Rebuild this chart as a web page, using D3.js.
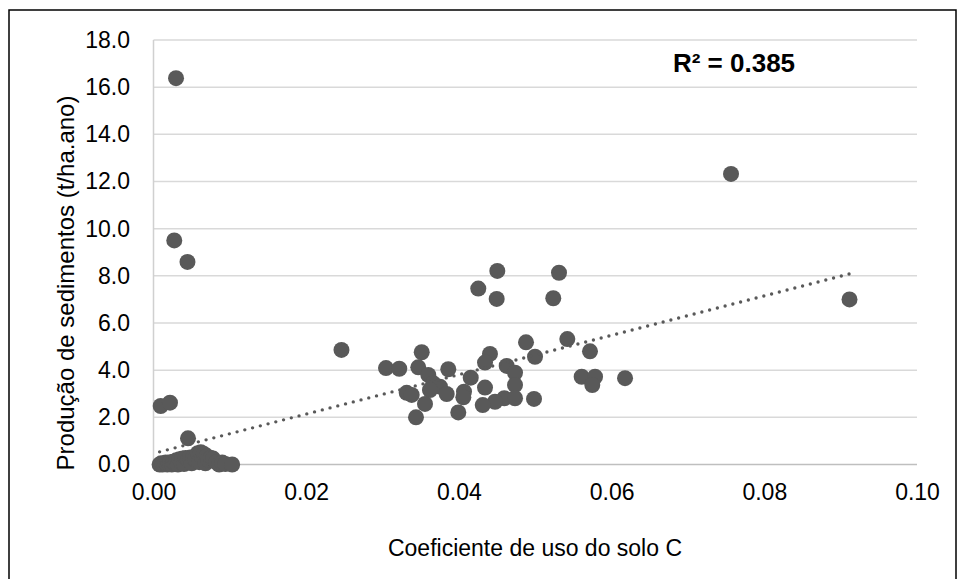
<!DOCTYPE html>
<html>
<head>
<meta charset="utf-8">
<script src="https://cdn.jsdelivr.net/npm/d3@7"></script>
<style>
  html, body { margin: 0; padding: 0; background: #fff; }
  svg { display: block; }
  text { font-family: "Liberation Sans", Arial, sans-serif; }
</style>
</head>
<body>
<svg id="chart" width="959" height="579"></svg>
<script>
// ---- data ----
const xValues = [
  // near-zero cluster
  0.0008,0.0010,0.0012,0.0014,0.0016,0.0018,0.0020,0.0022,0.0024,0.0026,
  0.0028,0.0030,0.0032,0.0034,0.0036,0.0038,0.0040,0.0042,0.0045,0.0048,
  0.0050,0.0052,0.0055,0.0058,0.0060,0.0062,0.0064,0.0066,0.0068,0.0070,
  0.0072,0.0075,0.0078,0.0082,0.0086,0.0090,0.0094,0.0103,
  // low-C outliers
  0.00094,0.00216,0.00272,0.00445,0.00295,0.00452,
  // middle cluster
  0.02462,
  0.04503,0.05311,0.04254,0.04495,0.05236,0.04879,0.05420,0.04997,0.05717,0.03513,
  0.04407,0.04342,0.03045,0.03219,0.03468,0.03861,0.04626,0.04735,0.03599,0.04155,
  0.05608,0.05783,0.05747,0.06176,0.03665,0.03752,0.03621,0.03840,0.03316,0.03382,
  0.04067,0.04058,0.04342,0.04735,0.03556,0.04595,0.04473,0.04312,0.04735,0.04984,
  0.03992,0.03438,
  // high-C points
  0.07564,0.09116
];
const yValues = [
  0.00,0.05,0.00,0.02,0.08,0.00,0.04,0.10,0.00,0.12,
  0.05,0.18,0.00,0.22,0.10,0.25,0.02,0.28,0.20,0.30,
  0.05,0.30,0.20,0.48,0.10,0.52,0.30,0.45,0.05,0.35,
  0.20,0.28,0.25,0.10,0.00,0.08,0.02,0.00,
  2.48,2.62,9.50,8.59,16.38,1.11,
  4.86,
  8.21,8.13,7.46,7.02,7.05,5.18,5.32,4.57,4.80,4.76,
  4.69,4.32,4.09,4.06,4.12,4.04,4.18,3.89,3.80,3.68,
  3.72,3.72,3.37,3.66,3.44,3.30,3.16,2.99,3.04,2.95,
  3.09,2.85,3.26,3.37,2.57,2.81,2.66,2.52,2.81,2.78,
  2.21,2.00,
  12.32,7.00
];
const xTicks = [0, 0.02, 0.04, 0.06, 0.08, 0.10];
const yTicks = [0, 2, 4, 6, 8, 10, 12, 14, 16, 18];
const trendSlope = 83.5;
const trendIntercept = 0.47;
const r2Label = "R² = 0.385";
const xTitle = "Coeficiente de uso do solo C";
const yTitle = "Produção de sedimentos (t/ha.ano)";

// ---- drawing ----
const svg = d3.select("#chart");
const W = 959, H = 579;
const plot = { left: 153.5, right: 917, top: 40, bottom: 464.5 };

svg.append("rect").attr("width", W).attr("height", H).attr("fill", "#fff");

// outer chart border
svg.append("path")
  .attr("d", `M9,${H} L9,10 L956,10 L956,${H}`)
  .attr("fill", "none").attr("stroke", "#000").attr("stroke-width", 1.5);

const x = d3.scaleLinear().domain([0, 0.1]).range([plot.left, plot.right]);
const y = d3.scaleLinear().domain([0, 18]).range([plot.bottom, plot.top]);

// gridlines
svg.append("g").selectAll("line").data(yTicks.filter(d => d > 0)).join("line")
  .attr("x1", plot.left).attr("x2", plot.right)
  .attr("y1", d => y(d)).attr("y2", d => y(d))
  .attr("stroke", "#d9d9d9").attr("stroke-width", 1.5);

// y axis line
svg.append("line")
  .attr("x1", plot.left).attr("x2", plot.left)
  .attr("y1", plot.top).attr("y2", plot.bottom)
  .attr("stroke", "#d0d0d0").attr("stroke-width", 1.5);

// x axis line
svg.append("line")
  .attr("x1", plot.left).attr("x2", plot.right)
  .attr("y1", y(0)).attr("y2", y(0))
  .attr("stroke", "#bfbfbf").attr("stroke-width", 1.5);

// y tick labels
const yAxis = d3.axisLeft(y).tickValues(yTicks).tickFormat(d3.format(".1f")).tickSize(0).tickPadding(23.5);
const gy = svg.append("g").attr("transform", `translate(${plot.left},0)`).call(yAxis);
gy.select(".domain").remove();
gy.selectAll("text").attr("font-size", 23).attr("fill", "#000")
  .attr("font-family", "'Liberation Sans', Arial, sans-serif");

// x tick labels
const xAxis = d3.axisBottom(x).tickValues(xTicks).tickFormat(d3.format(".2f")).tickSize(0).tickPadding(19.5);
const gx = svg.append("g").attr("transform", `translate(0,${y(0)})`).call(xAxis);
gx.select(".domain").remove();
gx.selectAll("text").attr("font-size", 23).attr("fill", "#000")
  .attr("font-family", "'Liberation Sans', Arial, sans-serif");

// points
const pts = xValues.map((v, i) => ({ x: v, y: yValues[i] }));
svg.append("g").selectAll("circle").data(pts).join("circle")
  .attr("cx", d => x(d.x)).attr("cy", d => y(d.y)).attr("r", 8)
  .attr("fill", "#595959");

// trendline
const [xmin, xmax] = d3.extent(xValues);
const line = d3.line().x(d => x(d)).y(d => y(trendIntercept + trendSlope * d));
svg.append("path").datum([xmin, xmax])
  .attr("d", line)
  .attr("fill", "none").attr("stroke", "#595959").attr("stroke-width", 3.4)
  .attr("stroke-linecap", "round").attr("stroke-dasharray", "0,8");

// R² label
svg.append("text").attr("x", 734).attr("y", 72).attr("text-anchor", "middle")
  .attr("font-size", 26).attr("font-weight", "bold").attr("fill", "#000").text(r2Label);

// axis titles
svg.append("text").attr("x", 535).attr("y", 556).attr("text-anchor", "middle")
  .attr("font-size", 23).attr("fill", "#000").text(xTitle);
svg.append("text").attr("transform", "translate(74,283) rotate(-90)").attr("text-anchor", "middle")
  .attr("font-size", 24).attr("fill", "#000").text(yTitle);
</script>
</body>
</html>
